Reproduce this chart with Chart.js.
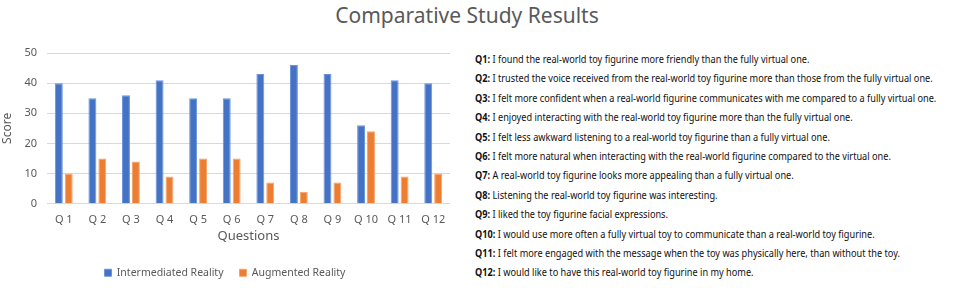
<!DOCTYPE html>
<html lang="en">
<head>
    <meta charset="UTF-8">
    <title>Comparative Study Results</title>
    <script src="https://cdn.jsdelivr.net/npm/chart.js"></script>
    <style>
        body {
            margin: 0;
            width: 957px;
            height: 288px;
            background: white;
            position: relative;
            overflow: hidden;
            font-family: 'Noto Sans', sans-serif;
        }
        .title {
            position: absolute;
            left: 0;
            top: 0;
            width: 934px;
            text-align: center;
            font-size: 21px;
            color: #595959;
            line-height: 30px;
        }
        .chart-box {
            position: absolute;
            left: 0;
            top: 30px;
            width: 455px;
            height: 258px;
        }
        /* question list on the right */
        .questions {
            position: absolute;
            left: 475px;
            top: 50px;
            transform-origin: 0 0;
            white-space: nowrap;
            font-size: 10px;
            color: #111;
        }
        .questions div {
            height: 19.4px;
            line-height: 19.4px;
        }
    </style>
</head>
<body>
    <div class="title">Comparative Study Results</div>
    <div class="chart-box"><canvas id="studyChart"></canvas></div>
    <div class="questions" id="questions"></div>

    <script>
        const questions = ['Q1', 'Q2', 'Q3', 'Q4', 'Q5', 'Q6', 'Q7', 'Q8', 'Q9', 'Q10', 'Q11', 'Q12'];
        const tickLabels = ['Q 1', 'Q 2', 'Q 3', 'Q 4', 'Q 5', 'Q 6', 'Q 7', 'Q 8', 'Q 9', 'Q 10', 'Q 11', 'Q 12'];
        const intermediated = [40, 35, 36, 41, 35, 35, 43, 46, 43, 26, 41, 40];
        const augmented = [10, 15, 14, 9, 15, 15, 7, 4, 7, 24, 9, 10];
        const statements = [
            'I found the real-world toy figurine more friendly than the fully virtual one.',
            'I trusted the voice received from the real-world toy figurine more than those from the fully virtual one.',
            'I felt more confident when a real-world figurine communicates with me compared to a fully virtual one.',
            'I enjoyed interacting with the real-world toy figurine more than the fully virtual one.',
            'I felt less awkward listening to a real-world toy figurine than a fully virtual one.',
            'I felt more natural when interacting with the real-world figurine compared to the virtual one.',
            'A real-world toy figurine looks more appealing than a fully virtual one.',
            'Listening the real-world toy figurine was interesting.',
            'I liked the toy figurine facial expressions.',
            'I would use more often a fully virtual toy to communicate than a real-world toy figurine.',
            'I felt more engaged with the message when the toy was physically here, than without the toy.',
            'I would like to have this real-world toy figurine in my home.'
        ];

        // question list
        const list = document.getElementById('questions');
        questions.forEach((q, i) => {
            const row = document.createElement('div');
            row.innerHTML = '<b>' + q + ':</b> ' + statements[i];
            list.appendChild(row);
        });
        // squeeze the list so the longest line fits like the original
        const widest = Math.max(...Array.from(list.children).map(r => r.scrollWidth));
        list.style.transform = 'scaleX(' + (461 / widest) + ')';

        const ctx = document.getElementById('studyChart').getContext('2d');
        new Chart(ctx, {
            type: 'bar',
            data: {
                labels: tickLabels,
                datasets: [{
                    label: 'Intermediated Reality',
                    data: intermediated,
                    backgroundColor: '#4472C4',
                    borderColor: '#6b93dc',
                    borderWidth: 1,
                    barPercentage: 0.8,
                    categoryPercentage: 0.59
                }, {
                    label: 'Augmented Reality',
                    data: augmented,
                    backgroundColor: '#ED7D31',
                    borderColor: '#f4a36c',
                    borderWidth: 1,
                    barPercentage: 0.8,
                    categoryPercentage: 0.59
                }]
            },
            options: {
                responsive: true,
                maintainAspectRatio: false,
                animation: false,
                layout: { padding: { top: 23, right: 5, left: 0, bottom: 0 } },
                scales: {
                    x: {
                        grid: { display: false },
                        border: { display: false },
                        ticks: { color: '#595959', font: { size: 11, family: 'Noto Sans' }, padding: 2 },
                        title: { display: true, text: 'Questions', color: '#595959', font: { size: 13, family: 'Noto Sans' }, padding: { top: 0, bottom: 7 } }
                    },
                    y: {
                        min: 0,
                        max: 50,
                        ticks: { stepSize: 10, color: '#595959', font: { size: 11, family: 'Noto Sans' }, padding: 10 },
                        grid: { color: '#d9d9d9', drawTicks: false },
                        border: { display: false },
                        title: { display: true, text: 'Score', color: '#595959', font: { size: 12, family: 'Noto Sans' }, padding: 0 }
                    }
                },
                plugins: {
                    legend: {
                        position: 'bottom',
                        labels: { boxWidth: 7, boxHeight: 7, color: '#595959', font: { size: 10.5, family: 'Noto Sans' }, padding: 16 }
                    },
                    tooltip: { enabled: false }
                }
            }
        });
    </script>
</body>
</html>
